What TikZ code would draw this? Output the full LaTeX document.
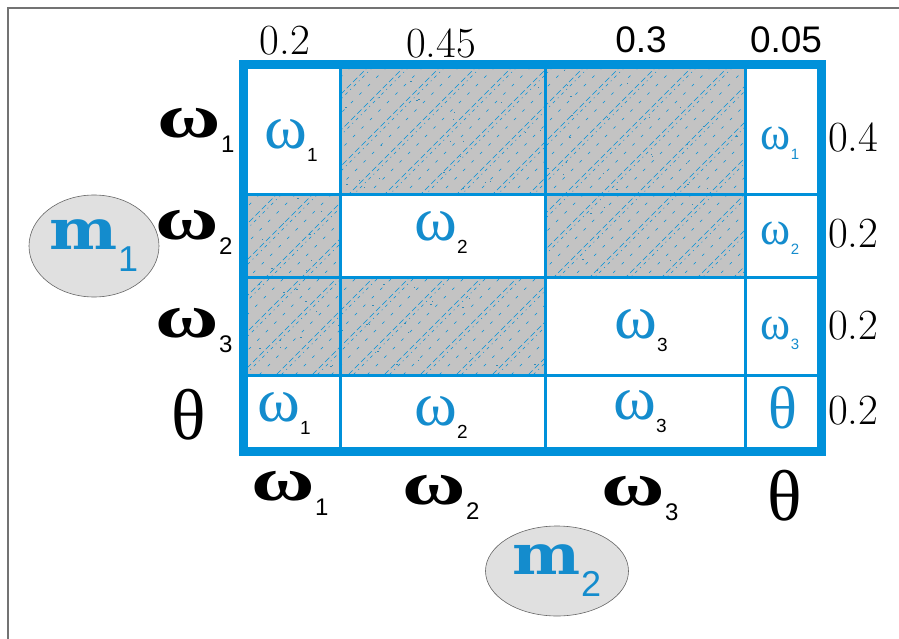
\documentclass[tikz,border=0pt]{standalone}
\usepackage{fontspec}
\usepackage{graphicx}
\usetikzlibrary{shapes.geometric}

\newfontfamily\arialfont{Liberation Sans}
\newfontfamily\timesfont{Liberation Serif}
\newfontfamily\slabfont{DejaVu Serif}

\definecolor{gridblue}{RGB}{0,145,218}
\definecolor{textblue}{RGB}{20,140,205}
\definecolor{cellgray}{RGB}{195,195,195}
\definecolor{ovalgray}{RGB}{224,224,224}

% omega with a subscript, black labels outside the table
\newcommand{\sideom}[1]{{\bfseries\scalebox{1.4}[1]{ω}}\raisebox{-15pt}{\arialfont\fontsize{24}{24}\selectfont #1}}
% omega inside the big cells
\newcommand{\cellom}[1]{\scalebox{1.05}[1]{ω}\raisebox{-13pt}{\arialfont\color{black}\fontsize{19}{19}\selectfont #1}}
% omega inside the narrow last column
\newcommand{\edgeom}[1]{\scalebox{0.95}[1]{ω}\raisebox{-10pt}{\arialfont\fontsize{15}{15}\selectfont #1}}

\begin{document}
\begin{tikzpicture}[x=1pt,y=-1pt,
    every node/.style={inner sep=0pt},
    sidelbl/.style={font=\timesfont\fontsize{62}{62}\selectfont},
    sidetheta/.style={font=\timesfont\fontsize{72}{72}\selectfont},
    celllbl/.style={text=textblue,font=\timesfont\fontsize{62}{62}\selectfont},
    edgelbl/.style={text=textblue,font=\timesfont\fontsize{48}{48}\selectfont},
    lmnum/.style={font=\fontsize{43}{43}\selectfont},
    sansnum/.style={font=\arialfont\fontsize{37}{37}\selectfont},
    hatch/.style={gridblue,line width=0.5pt},
    massoval/.style={ellipse,draw=black!60,fill=ovalgray,line width=0.6pt,
        text=textblue,font=\slabfont\bfseries\fontsize{56}{56}\selectfont}
]
\useasboundingbox (0,0) rectangle (899,639);

% Frame lines
\draw[black!55,line width=2pt] (899,8) -- (8,8) -- (8,639);

% Shaded cells with hatching
\begin{scope}
\clip (340,65) rectangle (745,195)
      (243,195) rectangle (340,277)
      (545,195) rectangle (745,277)
      (243,277) rectangle (545,375);
\fill[cellgray] (243,65) rectangle (821,451);
\foreach \x in {-160,-124,...,760}
{
\draw[hatch,dash pattern=on 6pt off 3pt] (\x,451) -- ++(386,-386);
\draw[hatch,dash pattern=on 3pt off 4pt on 1pt off 4pt] (\x+5,451) -- ++(386,-386);
\draw[hatch,dash pattern=on 3pt off 9pt] (\x+19,451) -- ++(386,-386);
}
\pgfmathsetseed{7}
\foreach \k in {1,...,140}
{
\pgfmathsetmacro{\px}{243+500*rnd}
\pgfmathsetmacro{\py}{65+310*rnd}
\fill[gridblue!60!gray] (\px,\py) rectangle ++(1.4,1);
}
\end{scope}

% Grid lines
\foreach \x in {340,545,745}
{
\draw[gridblue,line width=3pt] (\x,65) -- (\x,451);
}
\foreach \y in {195,277,375}
{
\draw[gridblue,line width=3pt] (243,\y) -- (821,\y);
}
\draw[gridblue,line width=9pt] (243,65) rectangle (821,451);

% Column masses on top
\node[lmnum] (p1) at (285,41) {0.2};
\node[lmnum] (p2) at (441,43) {0.45};
\node[sansnum] (p3) at (641,40) {0.3};
\node[sansnum] (p4) at (786,40) {0.05};

% Row masses on the right
\node[lmnum,anchor=west] (q1) at (828,137) {0.4};
\node[lmnum,anchor=west] (q2) at (828,234) {0.2};
\node[lmnum,anchor=west] (q3) at (828,326) {0.2};
\node[lmnum,anchor=west] (q4) at (828,411) {0.2};

% Row labels
\node[sidelbl] (r1) at (196,130) {\sideom{1}};
\node[sidelbl] (r2) at (194,232) {\sideom{2}};
\node[sidelbl] (r3) at (194,331) {\sideom{3}};
\node[sidetheta] (r4) at (189,415) {θ};

% Column labels
\node[sidelbl] (c1) at (290,493) {\sideom{1}};
\node[sidelbl] (c2) at (441,497) {\sideom{2}};
\node[sidelbl] (c3) at (640,499) {\sideom{3}};
\node[sidetheta] (c4) at (785,496) {θ};

% Cell labels
\node[celllbl] (a11) at (291,140) {\cellom{1}};
\node[celllbl] (a22) at (441,232) {\cellom{2}};
\node[celllbl] (a33) at (641,331) {\cellom{3}};
\node[celllbl] (a41) at (284,413) {\cellom{1}};
\node[celllbl] (a42) at (441,417) {\cellom{2}};
\node[celllbl] (a43) at (640,412) {\cellom{3}};
\node[celllbl,font=\timesfont\fontsize{60}{60}\selectfont] (a44) at (783,408) {θ};
\node[edgelbl] (a14) at (780,143) {\edgeom{1}};
\node[edgelbl] (a24) at (780,238) {\edgeom{2}};
\node[edgelbl] (a34) at (780,333) {\edgeom{3}};

% Masses
\node[massoval,minimum width=130pt,minimum height=102pt] (m1) at (94,246)
    {\scalebox{1.15}[1]{m}\raisebox{-22pt}{\arialfont\mdseries\fontsize{36}{36}\selectfont 1}};
\node[massoval,minimum width=143pt,minimum height=90pt] (m2) at (557,571)
    {\scalebox{1.15}[1]{m}\raisebox{-22pt}{\arialfont\mdseries\fontsize{36}{36}\selectfont 2}};

\end{tikzpicture}
\end{document}
